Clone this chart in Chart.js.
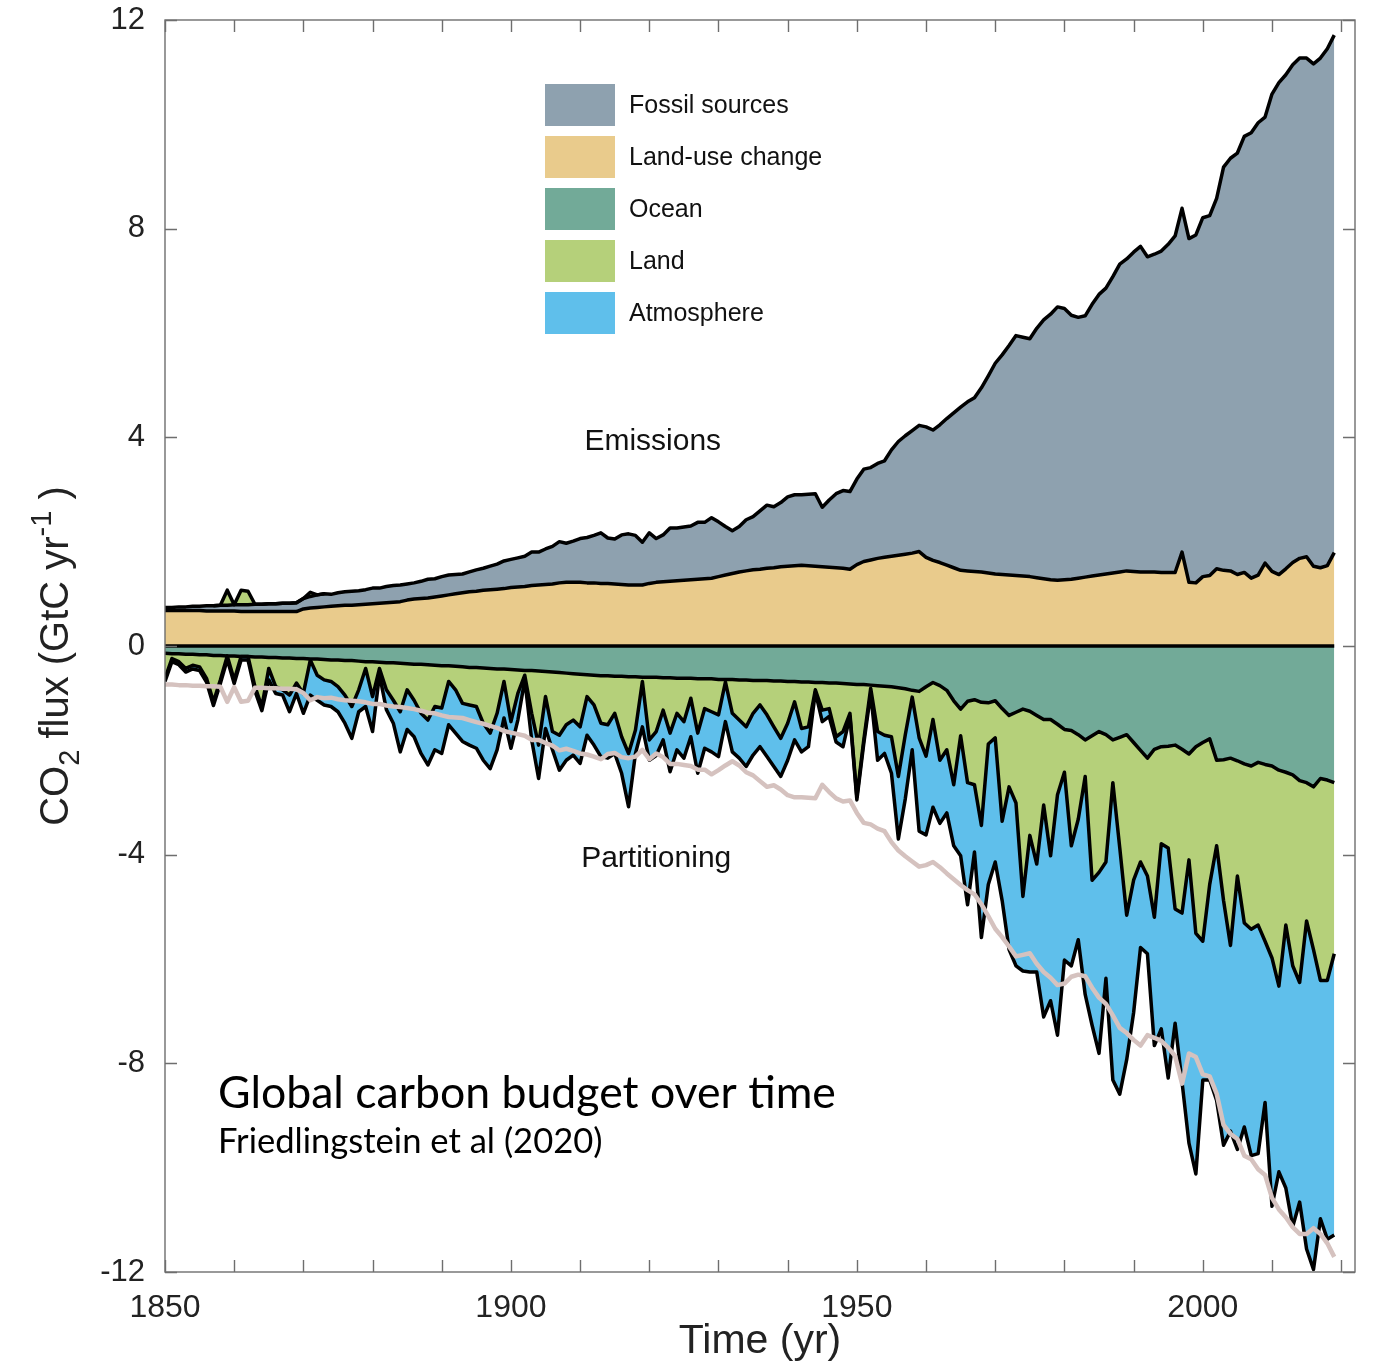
<!DOCTYPE html>
<html>
<head>
<meta charset="utf-8">
<script src="https://cdn.jsdelivr.net/npm/chart.js@4.4.0/dist/chart.umd.min.js"></script>
<style>
  html, body { margin: 0; padding: 0; background: #fff; }
  #wrap { width: 1375px; height: 1366px; }
</style>
</head>
<body>
<div id="wrap"><canvas id="budgetChart" width="1375" height="1366"></canvas></div>
<script>
// years on the x axis (annual, 1850-2019)
const years = Array.from({ length: 170 }, (_, i) => 1850 + i);

// upper edge of the fossil band = fossil + land-use change (GtC/yr)
const fossilTop = [
  0.74, 0.74, 0.75, 0.75, 0.76, 0.76, 0.77, 0.77, 0.78, 0.78,
  0.79, 0.79, 0.79, 0.80, 0.80, 0.81, 0.81, 0.82, 0.82, 0.83,
  0.91, 0.95, 0.98, 1.00, 0.99, 1.02, 1.04, 1.05, 1.06, 1.08,
  1.11, 1.11, 1.14, 1.16, 1.17, 1.19, 1.21, 1.24, 1.28, 1.29,
  1.33, 1.36, 1.37, 1.38, 1.42, 1.46, 1.49, 1.53, 1.57, 1.63,
  1.66, 1.69, 1.72, 1.80, 1.80, 1.86, 1.91, 2.00, 1.97, 2.01,
  2.06, 2.08, 2.12, 2.17, 2.07, 2.05, 2.13, 2.15, 2.12, 1.99,
  2.17, 2.06, 2.13, 2.26, 2.26, 2.28, 2.30, 2.37, 2.37, 2.46,
  2.38, 2.29, 2.21, 2.29, 2.42, 2.48, 2.59, 2.70, 2.67, 2.75,
  2.86, 2.90, 2.90, 2.91, 2.92, 2.66, 2.80, 2.92, 2.98, 2.96,
  3.20, 3.39, 3.42, 3.50, 3.55, 3.76, 3.92, 4.03, 4.13, 4.23,
  4.20, 4.14, 4.24, 4.36, 4.47, 4.58, 4.68, 4.76, 4.95, 5.18,
  5.42, 5.58, 5.76, 5.95, 5.92, 5.89, 6.09, 6.25, 6.36, 6.50,
  6.47, 6.34, 6.30, 6.33, 6.55, 6.74, 6.86, 7.08, 7.32, 7.42,
  7.55, 7.66, 7.46, 7.51, 7.57, 7.70, 7.86, 8.39, 7.81, 7.88,
  8.21, 8.25, 8.58, 9.18, 9.35, 9.45, 9.77, 9.84, 10.03, 10.14,
  10.58, 10.80, 10.95, 11.14, 11.27, 11.27, 11.16, 11.27, 11.45, 11.71
];

// upper edge of the land-use change band
const landUseTop = [
  0.68, 0.68, 0.68, 0.68, 0.68, 0.68, 0.67, 0.67, 0.67, 0.67,
  0.67, 0.66, 0.66, 0.66, 0.66, 0.66, 0.66, 0.66, 0.66, 0.66,
  0.71, 0.73, 0.74, 0.75, 0.76, 0.77, 0.78, 0.78, 0.79, 0.80,
  0.81, 0.82, 0.83, 0.84, 0.85, 0.88, 0.90, 0.91, 0.92, 0.94,
  0.96, 0.98, 1.00, 1.02, 1.04, 1.05, 1.07, 1.08, 1.09, 1.10,
  1.12, 1.13, 1.14, 1.16, 1.17, 1.18, 1.19, 1.21, 1.22, 1.22,
  1.22, 1.21, 1.21, 1.20, 1.20, 1.19, 1.18, 1.17, 1.17, 1.17,
  1.20, 1.22, 1.23, 1.24, 1.25, 1.26, 1.27, 1.28, 1.29, 1.30,
  1.33, 1.36, 1.39, 1.42, 1.44, 1.46, 1.47, 1.49, 1.50, 1.52,
  1.53, 1.54, 1.55, 1.54, 1.53, 1.52, 1.51, 1.50, 1.49, 1.47,
  1.56, 1.62, 1.65, 1.68, 1.70, 1.72, 1.74, 1.76, 1.78, 1.81,
  1.70, 1.64, 1.60, 1.55, 1.50, 1.45, 1.44, 1.43, 1.42, 1.40,
  1.38, 1.37, 1.36, 1.35, 1.34, 1.33, 1.31, 1.29, 1.27, 1.26,
  1.27, 1.28, 1.30, 1.32, 1.34, 1.36, 1.38, 1.40, 1.42, 1.44,
  1.43, 1.42, 1.42, 1.42, 1.41, 1.41, 1.41, 1.80, 1.22, 1.21,
  1.33, 1.35, 1.48, 1.45, 1.44, 1.37, 1.41, 1.30, 1.36, 1.59,
  1.43, 1.37, 1.48, 1.60, 1.68, 1.71, 1.53, 1.50, 1.54, 1.79
];

// lower edge of the ocean band
const oceanBottom = [
  -0.14, -0.15, -0.15, -0.16, -0.16, -0.17, -0.17, -0.18, -0.18, -0.19,
  -0.19, -0.20, -0.20, -0.21, -0.21, -0.22, -0.22, -0.23, -0.23, -0.24,
  -0.24, -0.25, -0.25, -0.26, -0.27, -0.27, -0.28, -0.28, -0.29, -0.30,
  -0.30, -0.31, -0.32, -0.32, -0.33, -0.34, -0.35, -0.35, -0.36, -0.37,
  -0.38, -0.38, -0.39, -0.40, -0.41, -0.41, -0.42, -0.43, -0.44, -0.44,
  -0.45, -0.46, -0.47, -0.47, -0.48, -0.49, -0.50, -0.51, -0.52, -0.53,
  -0.54, -0.55, -0.56, -0.57, -0.57, -0.58, -0.58, -0.59, -0.59, -0.60,
  -0.60, -0.60, -0.61, -0.61, -0.62, -0.62, -0.62, -0.63, -0.63, -0.63,
  -0.64, -0.64, -0.64, -0.65, -0.65, -0.66, -0.66, -0.66, -0.67, -0.67,
  -0.68, -0.68, -0.69, -0.69, -0.70, -0.70, -0.71, -0.71, -0.72, -0.73,
  -0.74, -0.74, -0.75, -0.76, -0.77, -0.78, -0.80, -0.82, -0.85, -0.87,
  -0.78, -0.70, -0.76, -0.85, -1.05, -1.21, -1.06, -1.03, -1.08, -1.09,
  -1.05, -1.20, -1.33, -1.27, -1.21, -1.25, -1.33, -1.41, -1.41, -1.50,
  -1.60, -1.62, -1.70, -1.80, -1.72, -1.64, -1.70, -1.80, -1.75, -1.70,
  -1.85, -2.00, -2.15, -1.98, -1.93, -1.92, -1.90, -1.98, -2.07, -1.93,
  -1.85, -1.78, -2.19, -2.18, -2.15, -2.20, -2.26, -2.30, -2.23, -2.27,
  -2.30, -2.38, -2.42, -2.47, -2.58, -2.62, -2.70, -2.54, -2.57, -2.62
];

// lower edge of the land-sink band
const landBottom = [
  -0.62, -0.24, -0.30, -0.43, -0.37, -0.40, -0.62, -1.07, -0.65, -0.19,
  -0.65, -0.20, -0.20, -0.78, -1.16, -0.43, -0.78, -0.84, -0.94, -0.71,
  -0.91, -0.27, -0.56, -0.65, -0.68, -0.78, -0.94, -1.16, -0.84, -0.43,
  -0.97, -0.43, -0.84, -1.04, -1.26, -0.84, -1.04, -1.29, -1.42, -1.16,
  -1.19, -0.68, -0.84, -1.10, -1.13, -1.16, -1.48, -1.67, -1.29, -0.68,
  -1.45, -0.91, -0.56, -1.29, -1.90, -0.97, -1.64, -1.71, -1.51, -1.42,
  -1.55, -0.97, -1.13, -1.48, -1.51, -1.29, -1.74, -2.06, -1.61, -0.68,
  -1.80, -1.64, -1.23, -1.67, -1.29, -1.45, -1.00, -1.67, -1.20, -1.26,
  -1.32, -0.69, -1.29, -1.42, -1.55, -1.29, -1.13, -1.32, -1.55, -1.77,
  -1.48, -1.07, -1.58, -1.55, -0.84, -1.23, -1.20, -1.74, -1.64, -1.29,
  -2.89, -1.80, -0.81, -1.64, -1.71, -1.74, -2.50, -1.70, -0.98, -1.76,
  -2.11, -1.41, -2.19, -1.99, -2.66, -1.72, -2.62, -2.66, -3.44, -1.88,
  -1.76, -3.36, -2.70, -3.01, -4.80, -3.63, -4.18, -3.05, -4.02, -2.85,
  -2.42, -3.83, -3.32, -2.50, -4.49, -4.34, -4.14, -2.62, -3.87, -5.16,
  -4.49, -4.14, -4.41, -5.20, -3.79, -3.87, -5.04, -5.12, -4.10, -5.51,
  -5.66, -4.57, -3.83, -4.88, -5.74, -4.41, -5.31, -5.43, -5.35, -5.66,
  -5.98, -6.52, -5.35, -6.13, -6.45, -5.27, -5.82, -6.41, -6.41, -5.90
];

// lower edge of the atmosphere band
const atmosphereBottom = [
  -0.68, -0.30, -0.36, -0.50, -0.44, -0.47, -0.69, -1.14, -0.72, -0.26,
  -0.72, -0.27, -0.27, -0.86, -1.24, -0.65, -0.91, -0.94, -1.26, -0.91,
  -1.29, -0.94, -1.04, -1.13, -1.16, -1.26, -1.48, -1.77, -1.26, -1.16,
  -1.64, -0.55, -1.22, -1.48, -2.03, -1.60, -1.74, -2.06, -2.28, -1.99,
  -2.06, -1.51, -1.67, -1.83, -1.90, -1.96, -2.19, -2.35, -1.99, -1.38,
  -1.96, -1.42, -0.65, -1.80, -2.54, -1.58, -1.99, -2.38, -2.19, -2.09,
  -2.25, -1.71, -1.90, -2.12, -2.15, -2.06, -2.44, -3.08, -2.06, -1.55,
  -2.19, -2.10, -1.80, -2.41, -1.99, -2.15, -1.74, -2.44, -1.96, -2.03,
  -2.12, -1.45, -2.03, -2.15, -2.31, -2.09, -1.93, -2.12, -2.31, -2.50,
  -2.19, -1.80, -2.03, -1.93, -0.88, -1.45, -1.35, -1.84, -1.93, -1.35,
  -2.95, -1.87, -0.91, -2.19, -2.06, -2.44, -3.70, -2.93, -1.99, -3.55,
  -3.62, -3.09, -3.40, -3.20, -3.83, -4.02, -4.96, -3.95, -5.59, -4.57,
  -4.14, -4.88, -5.82, -6.13, -6.23, -6.25, -6.25, -7.11, -6.80, -7.46,
  -6.02, -6.13, -5.63, -6.68, -7.27, -7.81, -6.37, -8.32, -8.59, -7.93,
  -7.03, -5.78, -5.90, -7.66, -7.34, -8.28, -7.23, -8.36, -9.53, -10.12,
  -8.32, -8.32, -8.71, -9.57, -9.30, -9.65, -9.22, -9.77, -9.73, -8.75,
  -10.74, -10.08, -10.39, -11.13, -10.66, -11.56, -11.95, -10.98, -11.37, -11.29
];

// mirrored total emissions (the pale line in the lower half)
const emissionsMirror = [
  -0.74, -0.74, -0.75, -0.75, -0.76, -0.76, -0.77, -0.77, -0.78, -1.07,
  -0.79, -1.07, -1.05, -0.80, -0.80, -0.81, -0.81, -0.82, -0.82, -0.83,
  -0.90, -1.04, -0.98, -1.00, -0.99, -1.02, -1.04, -1.05, -1.06, -1.08,
  -1.11, -1.11, -1.14, -1.16, -1.17, -1.19, -1.21, -1.24, -1.28, -1.29,
  -1.33, -1.36, -1.37, -1.38, -1.42, -1.46, -1.49, -1.53, -1.57, -1.63,
  -1.66, -1.69, -1.72, -1.80, -1.80, -1.86, -1.91, -2.00, -1.97, -2.01,
  -2.06, -2.08, -2.12, -2.17, -2.07, -2.05, -2.13, -2.15, -2.12, -1.99,
  -2.17, -2.06, -2.13, -2.26, -2.26, -2.28, -2.30, -2.37, -2.37, -2.46,
  -2.38, -2.29, -2.21, -2.29, -2.42, -2.48, -2.59, -2.70, -2.67, -2.75,
  -2.86, -2.90, -2.90, -2.91, -2.92, -2.66, -2.80, -2.92, -2.98, -2.96,
  -3.20, -3.39, -3.42, -3.50, -3.55, -3.76, -3.92, -4.03, -4.13, -4.23,
  -4.20, -4.14, -4.24, -4.36, -4.47, -4.58, -4.68, -4.76, -4.95, -5.18,
  -5.42, -5.58, -5.76, -5.95, -5.92, -5.89, -6.09, -6.25, -6.36, -6.50,
  -6.47, -6.34, -6.30, -6.33, -6.55, -6.74, -6.86, -7.08, -7.32, -7.42,
  -7.55, -7.66, -7.46, -7.51, -7.57, -7.70, -7.86, -8.39, -7.81, -7.88,
  -8.21, -8.25, -8.58, -9.18, -9.35, -9.45, -9.77, -9.84, -10.03, -10.14,
  -10.58, -10.80, -10.95, -11.14, -11.27, -11.27, -11.16, -11.27, -11.45, -11.71
];

// early years where land was a source, stacked on top of emissions
const landSourceYears = [1859, 1861, 1862, 1871];
const landSourceValues = [0.29, 0.28, 0.26, 0.08];

const legendLabels = ['Fossil sources', 'Land-use change', 'Ocean', 'Land', 'Atmosphere'];
const yTicks = [-12, -8, -4, 0, 4, 8, 12];
const xLabelYears = [1850, 1900, 1950, 2000];

const COLORS = {
  fossil: '#8ea1af',
  landUse: '#e9cb8c',
  ocean: '#72aa98',
  land: '#b5d07a',
  atmosphere: '#5fbfeb',
  mirror: '#d5c2bf'
};

const toPoints = arr => years.map((yr, i) => ({ x: yr, y: arr[i] }));

// short line over 1857-1873 that adds the land source on top of emissions
const landSourcePoints = years
  .map((yr, i) => {
    const k = landSourceYears.indexOf(yr);
    return { x: yr, y: fossilTop[i] + (k >= 0 ? landSourceValues[k] : 0) };
  })
  .filter(p => p.x >= 1857 && p.x <= 1873);

const blackEdge = {
  borderColor: '#000',
  borderWidth: 3.5,
  borderJoinStyle: 'round',
  pointRadius: 0,
  tension: 0
};

// no extra room for edge labels: chart area is pinned by layout padding
const noScalePadding = s => {
  s.paddingTop = 0; s.paddingBottom = 0;
  s.paddingLeft = 0; s.paddingRight = 0;
};

const frameTicks = {
  id: 'frameTicks',
  afterDatasetsDraw(chart) {
    // zero line across the data span
    const { ctx, scales: { x, y } } = chart;
    ctx.save();
    ctx.strokeStyle = '#000';
    ctx.lineWidth = 3.5;
    ctx.beginPath();
    ctx.moveTo(x.getPixelForValue(years[0]), y.getPixelForValue(0));
    ctx.lineTo(x.getPixelForValue(years[years.length - 1]), y.getPixelForValue(0));
    ctx.stroke();
    ctx.restore();
  },
  afterDraw(chart) {
    const { ctx, chartArea: a, scales: { x, y } } = chart;
    ctx.save();
    ctx.strokeStyle = '#6e6e6e';
    ctx.lineWidth = 1.4;
    ctx.beginPath();
    x.ticks.forEach(t => {
      if (t.value % 10 !== 0) return;
      const px = Math.round(x.getPixelForValue(t.value)) + 0.5;
      ctx.moveTo(px, a.bottom); ctx.lineTo(px, a.bottom - 12);
      ctx.moveTo(px, a.top); ctx.lineTo(px, a.top + 12);
    });
    yTicks.forEach(v => {
      const py = Math.round(y.getPixelForValue(v)) + 0.5;
      ctx.moveTo(a.left, py); ctx.lineTo(a.left + 12, py);
      ctx.moveTo(a.right, py); ctx.lineTo(a.right - 12, py);
    });
    ctx.stroke();
    ctx.strokeRect(a.left, a.top, a.right - a.left, a.bottom - a.top);
    ctx.restore();
  }
};

const annotations = {
  id: 'annotations',
  afterDraw(chart) {
    const { ctx, scales: { x, y } } = chart;
    ctx.save();

    // legend
    const boxColors = [COLORS.fossil, COLORS.landUse, COLORS.ocean, COLORS.land, COLORS.atmosphere];
    ctx.font = '25px "Liberation Sans", Arial, sans-serif';
    ctx.textBaseline = 'middle';
    ctx.textAlign = 'left';
    legendLabels.forEach((label, i) => {
      const top = 84 + i * 52;
      ctx.fillStyle = boxColors[i];
      ctx.fillRect(545, top, 70, 42);
      ctx.fillStyle = '#111';
      ctx.fillText(label, 629, top + 22);
    });

    // section labels
    ctx.font = '30px "Liberation Sans", Arial, sans-serif';
    ctx.textAlign = 'center';
    ctx.fillStyle = '#111';
    ctx.fillText('Emissions', x.getPixelForValue(1920.5), y.getPixelForValue(4) + 4);
    ctx.fillText('Partitioning', x.getPixelForValue(1921), y.getPixelForValue(-4) + 4);

    // caption, sized to the reference widths
    ctx.textAlign = 'left';
    ctx.textBaseline = 'alphabetic';
    ctx.fillStyle = '#000';
    const fitText = (text, width, left, baseline) => {
      ctx.font = '40px Lato, "Open Sans", sans-serif';
      const size = 40 * width / ctx.measureText(text).width;
      ctx.font = size.toFixed(1) + 'px Lato, "Open Sans", sans-serif';
      ctx.fillText(text, left, baseline);
    };
    fitText('Global carbon budget over time', 618, 218, 1108);
    fitText('Friedlingstein et al (2020)', 385, 218, 1153);

    // y-axis title with subscript and superscript
    const parts = [
      { t: 'CO', size: 40, dy: 0 },
      { t: '2', size: 29, dy: 11 },
      { t: ' flux (GtC yr', size: 40, dy: 0 },
      { t: '-1', size: 29, dy: -17 },
      { t: ' )', size: 40, dy: 0 }
    ];
    let total = 0;
    parts.forEach(p => {
      ctx.font = p.size + 'px "Liberation Sans", Arial, sans-serif';
      p.w = ctx.measureText(p.t).width;
      total += p.w;
    });
    ctx.translate(68, 656);
    ctx.rotate(-Math.PI / 2);
    ctx.fillStyle = '#222';
    let cx = -total / 2;
    parts.forEach(p => {
      ctx.font = p.size + 'px "Liberation Sans", Arial, sans-serif';
      ctx.fillText(p.t, cx, p.dy);
      cx += p.w;
    });
    ctx.restore();
  }
};

new Chart(document.getElementById('budgetChart'), {
  type: 'line',
  data: {
    datasets: [
      {
        label: 'Total emissions (mirrored)',
        data: toPoints(emissionsMirror),
        borderColor: COLORS.mirror,
        borderWidth: 4.5,
        borderJoinStyle: 'round',
        pointRadius: 0,
        fill: false
      },
      { label: 'Land source', data: landSourcePoints, backgroundColor: COLORS.land, fill: 2, ...blackEdge },
      { label: 'Fossil sources', data: toPoints(fossilTop), backgroundColor: COLORS.fossil, fill: 3, ...blackEdge },
      { label: 'Land-use change', data: toPoints(landUseTop), backgroundColor: COLORS.landUse, fill: 'origin', ...blackEdge },
      { label: 'Ocean', data: toPoints(oceanBottom), backgroundColor: COLORS.ocean, fill: 'origin', ...blackEdge },
      { label: 'Land', data: toPoints(landBottom), backgroundColor: COLORS.land, fill: 4, ...blackEdge },
      { label: 'Atmosphere', data: toPoints(atmosphereBottom), backgroundColor: COLORS.atmosphere, fill: 5, ...blackEdge }
    ]
  },
  options: {
    responsive: false,
    animation: false,
    events: [],
    layout: { padding: { top: 20, right: 20, left: 0, bottom: 0 } },
    plugins: {
      legend: { display: false },
      tooltip: { enabled: false },
      filler: { drawTime: 'beforeDatasetsDraw', propagate: false }
    },
    scales: {
      x: {
        type: 'linear',
        min: 1850,
        max: 2022,
        afterFit: s => { s.height = 94; noScalePadding(s); },
        grid: { display: false },
        border: { display: false },
        ticks: {
          stepSize: 10,
          includeBounds: false,
          autoSkip: false,
          maxRotation: 0,
          padding: 9,
          color: '#222',
          font: { family: '"Liberation Sans", Arial, sans-serif', size: 32 },
          callback: v => (xLabelYears.includes(v) ? String(v) : '')
        },
        title: {
          display: true,
          text: 'Time (yr)',
          color: '#222',
          font: { family: '"Liberation Sans", Arial, sans-serif', size: 41 },
          padding: { top: 0, bottom: 0 }
        }
      },
      y: {
        min: -12,
        max: 12,
        afterFit: s => { s.width = 165; noScalePadding(s); },
        grid: { display: false },
        border: { display: false },
        ticks: {
          stepSize: 4,
          padding: 12,
          color: '#222',
          font: { family: '"Liberation Sans", Arial, sans-serif', size: 31 }
        }
      }
    }
  },
  plugins: [frameTicks, annotations]
});
</script>
</body>
</html>
